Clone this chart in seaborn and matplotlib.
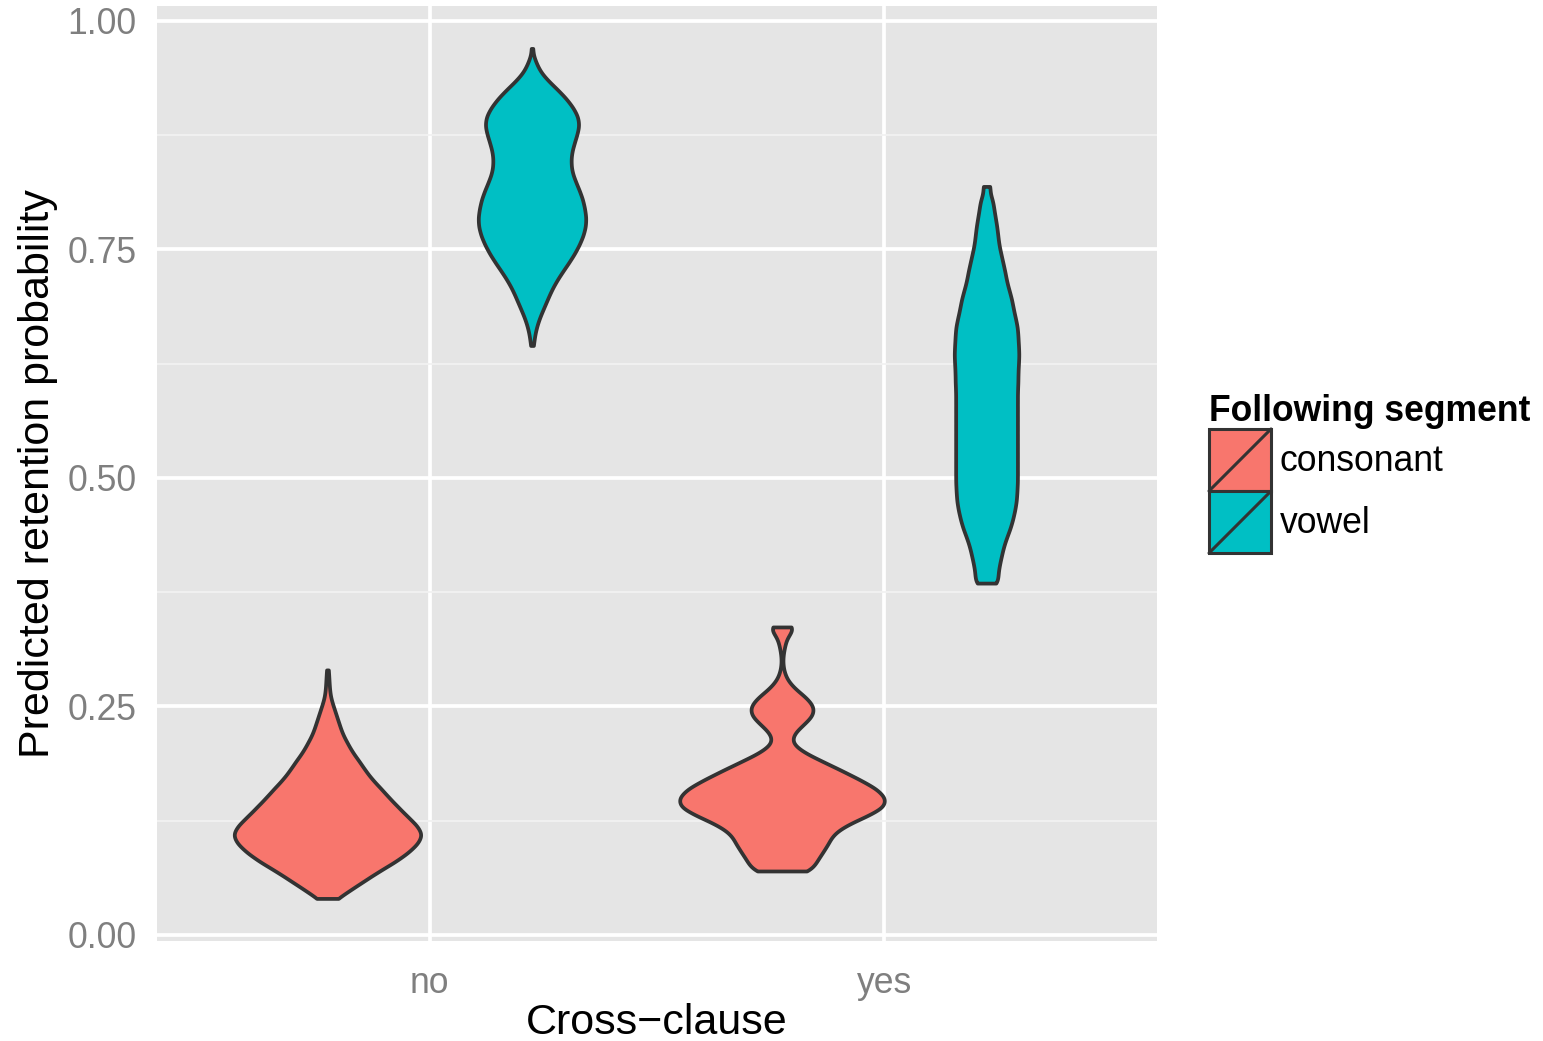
import numpy as np
import pandas as pd
import matplotlib
matplotlib.use("Agg")
import matplotlib.pyplot as plt
import seaborn as sns
from matplotlib.patches import Patch, Rectangle
from matplotlib.lines import Line2D
from matplotlib.legend_handler import HandlerBase

# ---------------- data (with counts per value) -------------
clause_levels = ["no", "yes"]
segment_levels = ["consonant", "vowel"]

cons_no_vals = [0.04, 0.05, 0.06, 0.07, 0.08, 0.09, 0.10, 0.11, 0.12, 0.13, 0.14, 0.15, 0.16,
                0.17, 0.18, 0.19, 0.20, 0.21, 0.22, 0.23, 0.24, 0.25, 0.26, 0.27, 0.28, 0.29]
cons_no_counts = [20, 48, 76, 104, 136, 162, 182, 192, 180, 160, 142, 124, 108,
                  90, 76, 64, 50, 40, 30, 24, 18, 12, 6, 4, 3, 2]

vowel_no_vals = [0.645, 0.655, 0.665, 0.675, 0.685, 0.695, 0.705, 0.715, 0.725, 0.735, 0.745,
                 0.755, 0.765, 0.775, 0.785, 0.795, 0.805, 0.815, 0.825, 0.835, 0.845, 0.855,
                 0.865, 0.875, 0.885, 0.895, 0.905, 0.915, 0.925, 0.935, 0.945, 0.955, 0.97]
vowel_no_counts = [3, 5, 9, 15, 23, 31, 39, 49, 61, 74, 86, 96, 104,
                   109, 110, 107, 103, 96, 88, 81, 79, 80, 85, 91, 96, 94,
                   84, 70, 52, 32, 16, 8, 2]

cons_yes_vals = [0.07, 0.08, 0.09, 0.10, 0.11, 0.12, 0.13, 0.14, 0.15, 0.16, 0.17, 0.18, 0.19,
                 0.20, 0.21, 0.22, 0.23, 0.24, 0.25, 0.26, 0.27, 0.28, 0.29, 0.30, 0.31, 0.32,
                 0.33, 0.337]
cons_yes_counts = [59, 68, 80, 92, 100, 126, 168, 204, 206, 188, 154, 118, 80,
                   42, 18, 22, 42, 62, 64, 48, 24, 9, 3, 1, 3, 7,
                   11, 24]

vowel_yes_vals = [0.385, 0.395, 0.405, 0.415, 0.425, 0.435, 0.445, 0.455, 0.465, 0.475, 0.485,
                  0.495, 0.505, 0.515, 0.525, 0.535, 0.545, 0.555, 0.565, 0.575, 0.585, 0.595,
                  0.605, 0.615, 0.625, 0.635, 0.645, 0.655, 0.665, 0.675, 0.685, 0.695, 0.705,
                  0.715, 0.725, 0.735, 0.745, 0.755, 0.765, 0.775, 0.785, 0.795, 0.805, 0.819]
vowel_yes_counts = [23, 22, 25, 29, 33, 39, 46, 51, 55, 58, 59,
                    60, 60, 60, 60, 60, 60, 60, 60, 60, 60, 60,
                    61, 61, 62, 63, 62, 61, 60, 56, 52, 49, 44,
                    39, 36, 32, 28, 24, 22, 20, 17, 14, 12, 9]

y_ticks = [0.00, 0.25, 0.50, 0.75, 1.00]
y_tick_labels = ["0.00", "0.25", "0.50", "0.75", "1.00"]
y_minor = [0.125, 0.375, 0.625, 0.875]

colors = {"consonant": "#F8766D", "vowel": "#00BFC4"}

groups = [
    ("no", "consonant", cons_no_vals, cons_no_counts),
    ("no", "vowel", vowel_no_vals, vowel_no_counts),
    ("yes", "consonant", cons_yes_vals, cons_yes_counts),
    ("yes", "vowel", vowel_yes_vals, vowel_yes_counts),
]
frames = []
for clause, seg, vals, cnts in groups:
    v = np.repeat(np.array(vals), np.array(cnts))
    frames.append(pd.DataFrame({"clause": clause, "segment": seg, "prob": v}))
df = pd.concat(frames, ignore_index=True)

# ---------------- style ----------------
sns.set_style("white")
plt.rcParams["font.family"] = ["Liberation Sans", "DejaVu Sans"]
plt.rcParams["text.color"] = "black"

BASE = 31
SMALL = 25.6
GREY50 = "#7F7F7F"
DARK = "#333333"


def fixed_bw(kde):
    # constant kernel bandwidth in data units
    return 0.0068 / np.std(kde.dataset, ddof=1)


fig = plt.figure(figsize=(15.43, 10.41), dpi=100)
ax = fig.add_axes([157 / 1543, (1041 - 941) / 1041, 1000 / 1543, 935 / 1041])
ax.set_facecolor("#E5E5E5")

sns.violinplot(
    data=df, x="clause", y="prob", hue="segment",
    order=clause_levels, hue_order=segment_levels,
    palette=colors, saturation=1, cut=0, inner=None,
    density_norm="area", common_norm=True, width=0.9, dodge=True,
    linewidth=2.7, linecolor=DARK, bw_method=fixed_bw, gridsize=400,
    legend=False, ax=ax,
)

ax.set_xlim(-0.6, 1.6)
ax.set_ylim(-0.0066, 1.0164)
ax.set_yticks(y_ticks)
ax.set_yticklabels(y_tick_labels)
ax.set_yticks(y_minor, minor=True)

ax.set_axisbelow(True)
ax.grid(which="major", color="white", linewidth=2.7)
ax.grid(which="minor", axis="y", color="#F2F2F2", linewidth=1.3)
for s in ax.spines.values():
    s.set_visible(False)

ax.tick_params(axis="both", which="major", length=10, width=2.6, color=GREY50,
               labelcolor=GREY50, labelsize=SMALL)
ax.tick_params(axis="y", which="major", pad=4.5)
ax.tick_params(axis="x", which="major", pad=8)
ax.tick_params(axis="y", which="minor", length=0)

ax.set_xlabel("Cross\u2212clause", fontsize=BASE, color="black")
ax.set_ylabel("Predicted retention probability", fontsize=BASE, color="black")
ax.xaxis.set_label_coords(0.5, -(1003 - 941) / 935)
ax.yaxis.set_label_coords(-(157 - 58) / 1000, 0.5)


class SlashKey(HandlerBase):
    def create_artists(self, legend, orig_handle, xdescent, ydescent, width, height,
                       fontsize, trans):
        r = Rectangle((-xdescent, -ydescent), width, height,
                      facecolor=orig_handle.get_facecolor(), edgecolor=DARK,
                      linewidth=2.2, transform=trans)
        l = Line2D([-xdescent, -xdescent + width], [-ydescent, -ydescent + height],
                   color=DARK, linewidth=2.2, transform=trans)
        return [r, l]


handles = [Patch(facecolor=colors[s]) for s in segment_levels]
leg = ax.legend(
    handles, segment_levels, title="Following segment",
    loc="center left", bbox_to_anchor=((1209 - 157) / 1000, 0.5),
    frameon=False, borderpad=0, borderaxespad=0,
    handlelength=1.745, handleheight=2.308, handletextpad=0.25, labelspacing=0,
    fontsize=SMALL, labelcolor="black",
    title_fontproperties={"weight": "bold", "size": SMALL},
    alignment="left", handler_map={Patch: SlashKey()},
)
leg.get_title().set_color("black")

fig.savefig("out.png", dpi=100)
